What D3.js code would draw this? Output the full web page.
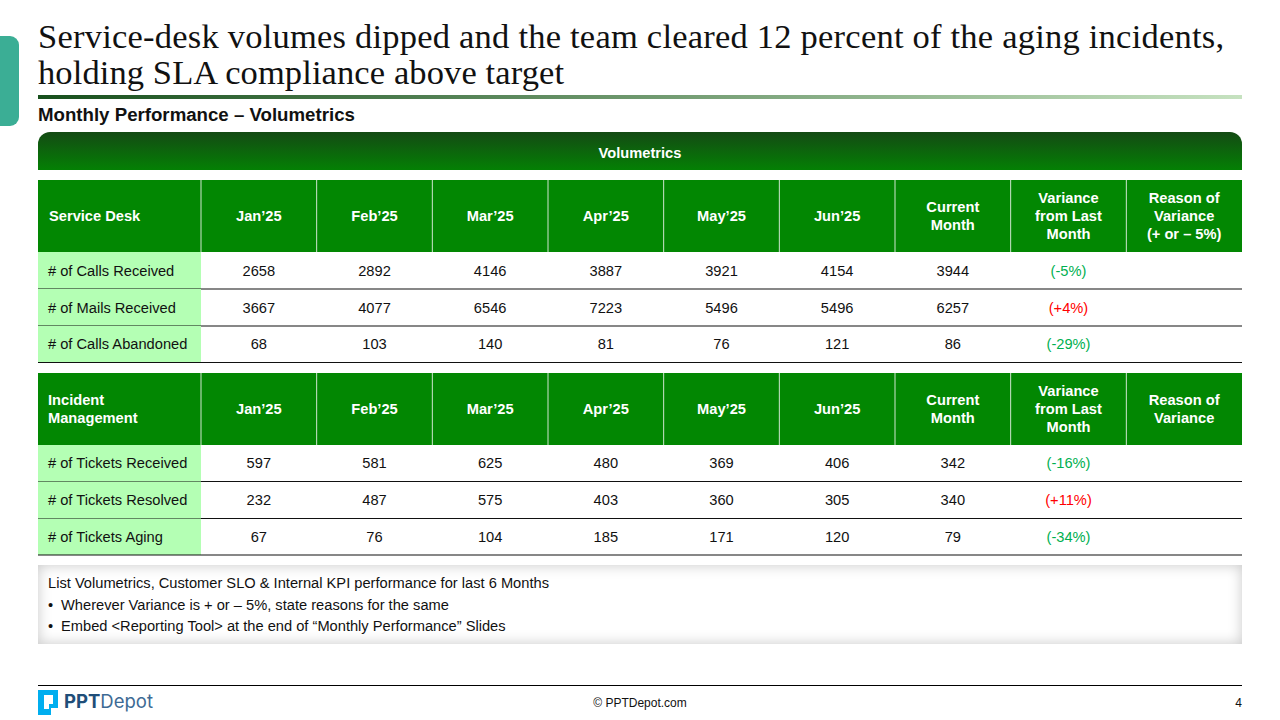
<!DOCTYPE html>
<html>
<head>
<meta charset="utf-8">
<script src="https://cdn.jsdelivr.net/npm/d3@7"></script>
<style>
  html, body { margin: 0; padding: 0; background: #fff; }
  #slide { position: relative; width: 1280px; height: 720px; overflow: hidden; }
  #note { position: absolute; left: 38px; top: 565px; width: 1204px; height: 79px; background: #fff;
          box-shadow: inset 0 0 14px rgba(0,0,0,.22); }
  svg { position: absolute; left: 0; top: 0; font-family: "Liberation Sans", Arial, sans-serif; }
</style>
</head>
<body>
<div id="slide">
  <div id="note"></div>
  <svg id="chart" width="1280" height="720"></svg>
</div>
<script>
var titleLines = [
  'Service-desk volumes dipped and the team cleared 12 percent of the aging incidents,',
  'holding SLA compliance above target'
];
var titleWidths = [1186, 526];
var subtitle = 'Monthly Performance \u2013 Volumetrics';
var banner = 'Volumetrics';

var months = ['Jan\u201925', 'Feb\u201925', 'Mar\u201925', 'Apr\u201925', 'May\u201925', 'Jun\u201925'];
var columns = months.concat(['Current', 'Variance', 'Reason']);

var deskRows = ['# of Calls Received', '# of Mails Received', '# of Calls Abandoned'];
var deskCalls = [2658, 2892, 4146, 3887, 3921, 4154, 3944];
var deskMails = [3667, 4077, 6546, 7223, 5496, 5496, 6257];
var deskAbandoned = [68, 103, 140, 81, 76, 121, 86];
var deskVariance = ['(-5%)', '(+4%)', '(-29%)'];

var incidentRows = ['# of Tickets Received', '# of Tickets Resolved', '# of Tickets Aging'];
var ticketsReceived = [597, 581, 625, 480, 369, 406, 342];
var ticketsResolved = [232, 487, 575, 403, 360, 305, 340];
var ticketsAging = [67, 76, 104, 185, 171, 120, 79];
var incidentVariance = ['(-16%)', '(+11%)', '(-34%)'];

var deskHeaders = {
  Current: ['Current', 'Month'],
  Variance: ['Variance', 'from Last', 'Month'],
  Reason: ['Reason of', 'Variance', '(+ or \u2013 5%)']
};
var incidentHeaders = {
  Current: ['Current', 'Month'],
  Variance: ['Variance', 'from Last', 'Month'],
  Reason: ['Reason of', 'Variance']
};

var notes = [
  'List Volumetrics, Customer SLO & Internal KPI performance for last 6 Months',
  '\u2022',
  'Wherever Variance is + or \u2013 5%, state reasons for the same',
  '\u2022',
  'Embed <Reporting Tool> at the end of \u201CMonthly Performance\u201D Slides'
];

var GREEN = '#028702', PALE = '#b4ffb4', GOOD = '#00b050', BAD = '#ff0000';

var svg = d3.select('#chart');
var defs = svg.append('defs');

function gradient(id, horizontal, stops) {
  var g = defs.append('linearGradient').attr('id', id)
    .attr('x1', 0).attr('y1', 0)
    .attr('x2', horizontal ? 1 : 0).attr('y2', horizontal ? 0 : 1);
  stops.forEach(function (s, i) {
    g.append('stop').attr('offset', i / (stops.length - 1)).attr('stop-color', s);
  });
}
gradient('ruleGrad', true, ['#174f1c', '#c6e2c0']);
gradient('bannerGrad', false, ['#144a14', '#048004']);

// Column scale, label column sits to the left of it
var xScale = d3.scaleBand().domain(columns).range([201, 1242]);

// Side tab, title and rule
svg.append('path')
  .attr('d', 'M0,36H10a9,9 0 0 1 9,9V117a9,9 0 0 1 -9,9H0Z')
  .attr('fill', '#3bae95');

svg.append('g').selectAll('text')
    .data(titleLines)
    .enter()
  .append('text')
    .attr('x', 38)
    .attr('y', function (d, i) { return 48 + i * 36; })
    .attr('font-family', '"Liberation Serif", Georgia, serif')
    .attr('font-size', 34.5)
    .attr('textLength', function (d, i) { return titleWidths[i]; })
    .attr('lengthAdjust', 'spacing')
    .attr('fill', '#111')
    .text(function (d) { return d; });

svg.append('rect').attr('x', 38).attr('y', 95).attr('width', 1204).attr('height', 4)
  .attr('fill', 'url(#ruleGrad)');

svg.append('text').attr('x', 38).attr('y', 121)
  .attr('font-size', 18.67).attr('font-weight', 700).attr('fill', '#111')
  .text(subtitle);

// Banner
svg.append('path')
  .attr('d', 'M38,170V144a12,12 0 0 1 12,-12H1230a12,12 0 0 1 12,12V170Z')
  .attr('fill', 'url(#bannerGrad)');
svg.append('text').attr('x', 640).attr('y', 158).attr('text-anchor', 'middle')
  .attr('font-size', 14.67).attr('font-weight', 700).attr('fill', '#fff')
  .text(banner);

function drawTable(top, rowEnds, textYs, firstHeader, firstX, headers, rowNames, values, variance) {
  var plot = svg.append('g');
  var headerBottom = top + 72;

  plot.append('rect')
    .attr('x', 38).attr('y', top).attr('width', 1204).attr('height', 72)
    .attr('fill', GREEN);

  // Header separators
  plot.selectAll('line.sep')
      .data(columns)
      .enter()
    .append('line')
      .attr('class', 'sep')
      .attr('x1', function (d) { return xScale(d); })
      .attr('x2', function (d) { return xScale(d); })
      .attr('y1', top).attr('y2', headerBottom)
      .attr('stroke', '#cfe6cf').attr('stroke-width', 1);

  // First header cell
  plot.selectAll('text.first')
      .data(firstHeader)
      .enter()
    .append('text')
      .attr('class', 'first')
      .attr('x', firstX)
      .attr('y', function (d, i) {
        return top + 41 - (firstHeader.length - 1) * 9 + i * 18;
      })
      .attr('font-size', 14.67).attr('font-weight', 700).attr('fill', '#fff')
      .text(function (d) { return d; });

  // Header labels
  columns.forEach(function (c) {
    var lines = headers[c] || [c];
    plot.selectAll(null)
        .data(lines)
        .enter()
      .append('text')
        .attr('x', xScale(c) + xScale.bandwidth() / 2)
        .attr('y', function (d, i) {
          return top + 41 - (lines.length - 1) * 8.9 + i * 17.8;
        })
        .attr('text-anchor', 'middle')
        .attr('font-size', 14.67).attr('font-weight', 700).attr('fill', '#fff')
        .text(function (d) { return d; });
  });

  rowNames.forEach(function (name, r) {
    var y0 = r === 0 ? headerBottom : rowEnds[r - 1];
    var row = plot.append('g');

    row.append('rect')
      .attr('x', 38).attr('y', y0).attr('width', 163).attr('height', rowEnds[r] - y0)
      .attr('fill', PALE);

    row.append('line')
      .attr('x1', 38).attr('x2', 1242)
      .attr('y1', rowEnds[r]).attr('y2', rowEnds[r])
      .attr('stroke', '#111').attr('stroke-width', 1.2);

    row.append('text')
      .attr('x', 48).attr('y', textYs[r] + 5)
      .attr('font-size', 14.67).attr('fill', '#111')
      .text(name);

    row.selectAll('text.val')
        .data(values[r])
        .enter()
      .append('text')
        .attr('class', 'val')
        .attr('x', function (d, i) { return xScale(columns[i]) + xScale.bandwidth() / 2; })
        .attr('y', textYs[r] + 5)
        .attr('text-anchor', 'middle')
        .attr('font-size', 14.67).attr('fill', '#111')
        .text(function (d) { return d; });

    row.append('text')
      .attr('x', xScale('Variance') + xScale.bandwidth() / 2)
      .attr('y', textYs[r] + 5)
      .attr('text-anchor', 'middle')
      .attr('font-size', 14.67)
      .attr('fill', variance[r].indexOf('+') >= 0 ? BAD : GOOD)
      .text(variance[r]);
  });
}

drawTable(180, [289, 326, 362.5], [271, 308, 344], ['Service Desk'], 49, deskHeaders,
  deskRows, [deskCalls, deskMails, deskAbandoned], deskVariance);

drawTable(373, [481.5, 518.5, 555], [463, 500, 537], ['Incident', 'Management'], 48, incidentHeaders,
  incidentRows, [ticketsReceived, ticketsResolved, ticketsAging], incidentVariance);

// Notes box text
var noteX = [48, 48, 61, 48, 61];
var noteY = [588, 610, 610, 631, 631];
svg.append('g').selectAll('text')
    .data(notes)
    .enter()
  .append('text')
    .attr('x', function (d, i) { return noteX[i]; })
    .attr('y', function (d, i) { return noteY[i]; })
    .attr('font-size', 14.67).attr('fill', '#111')
    .text(function (d) { return d; });

// Footer
svg.append('line').attr('x1', 38).attr('x2', 1242).attr('y1', 685.5).attr('y2', 685.5)
  .attr('stroke', '#000').attr('stroke-width', 1.2);

svg.append('path')
  .attr('d', 'M38,690H58V708H51V715H38ZM44,695V709H49V704H53V695Z')
  .attr('fill', '#00aeef').attr('fill-rule', 'evenodd');

var logo = svg.append('text').attr('x', 64).attr('y', 708)
  .attr('font-family', 'Inter, "Liberation Sans", sans-serif')
  .attr('font-size', 18.5).attr('fill', '#1f4e79');
logo.append('tspan').attr('font-weight', 700).text('PPT');
logo.append('tspan').attr('fill', '#3d6a94').text('Depot');

svg.append('text').attr('x', 640).attr('y', 707).attr('text-anchor', 'middle')
  .attr('font-size', 12).attr('fill', '#111').text('\u00A9 PPTDepot.com');
svg.append('text').attr('x', 1242).attr('y', 707).attr('text-anchor', 'end')
  .attr('font-size', 12).attr('fill', '#111').text('4');
</script>
</body>
</html>
